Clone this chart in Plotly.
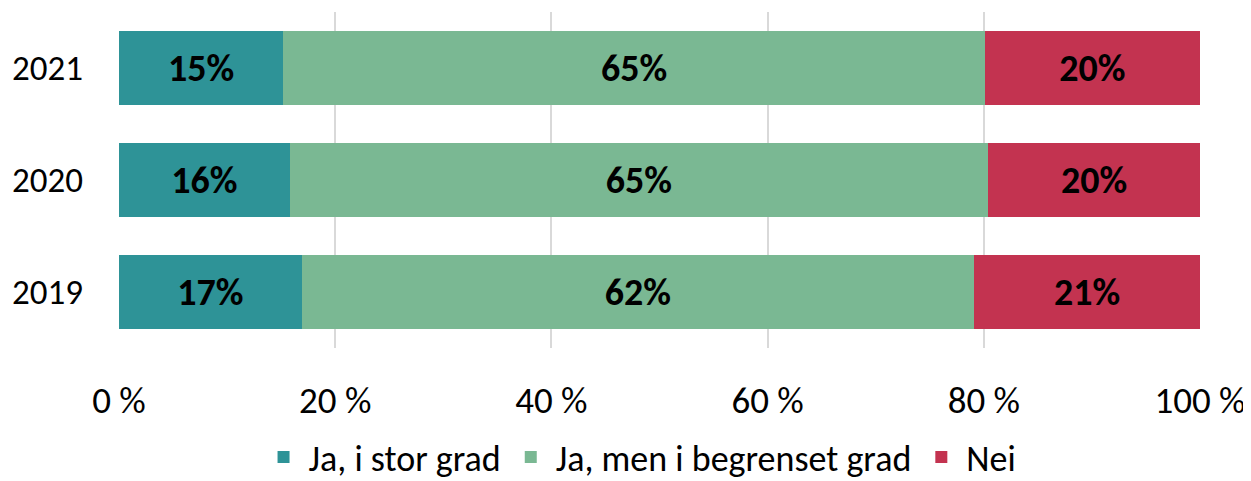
import plotly.graph_objects as go

years = ["2019", "2020", "2021"]
stor_grad = [16.9, 15.8, 15.2]
begrenset_grad = [62.2, 64.6, 64.9]
nei = [20.9, 19.6, 19.9]

series_names = ["Ja, i stor grad", "Ja, men i begrenset grad", "Nei"]
colors = ["#2E9397", "#7AB893", "#C33350"]
tick_vals = [0, 20, 40, 60, 80, 100]
tick_text = ["0 %", "20 %", "40 %", "60 %", "80 %", "100 %"]

FONT = "Calibri, Carlito, Lato, sans-serif"
FS = 37

fig = go.Figure()
for name, vals, col in zip(series_names, [stor_grad, begrenset_grad, nei], colors):
    fig.add_trace(go.Bar(
        y=years, x=vals, name=name, orientation="h",
        marker=dict(color=col, line=dict(width=0)),
        texttemplate="<b>%{x:.0f}%</b>", textposition="inside",
        insidetextanchor="middle",
        textfont=dict(family=FONT, size=38, color="black"),
        constraintext="none",
    ))

# page body has an 8px margin: compensate so the plot lands where the reference has it
fig.update_layout(
    barmode="stack", bargap=0.34,
    width=1243, height=473,
    margin=dict(l=111, r=51, t=4, b=133, pad=0, autoexpand=False),
    plot_bgcolor="white", paper_bgcolor="white",
    font=dict(family=FONT, size=FS, color="black"),
    legend=dict(orientation="h", x=0.482, xanchor="center", y=-0.325, yanchor="middle",
                font=dict(size=36), traceorder="normal", itemwidth=40),
    showlegend=True,
)
fig.update_xaxes(range=[0, 100], tickmode="array", tickvals=tick_vals, ticktext=tick_text,
                 showgrid=True, gridcolor="#D9D9D9", gridwidth=2, automargin=False,
                 zeroline=False, showline=False, ticks="", ticklabelstandoff=27,
                 tickfont=dict(size=FS))
fig.update_yaxes(showgrid=False, showline=False, ticks="", ticklabelstandoff=35,
                 automargin=False, tickfont=dict(size=35))

fig.write_html("out.html")
